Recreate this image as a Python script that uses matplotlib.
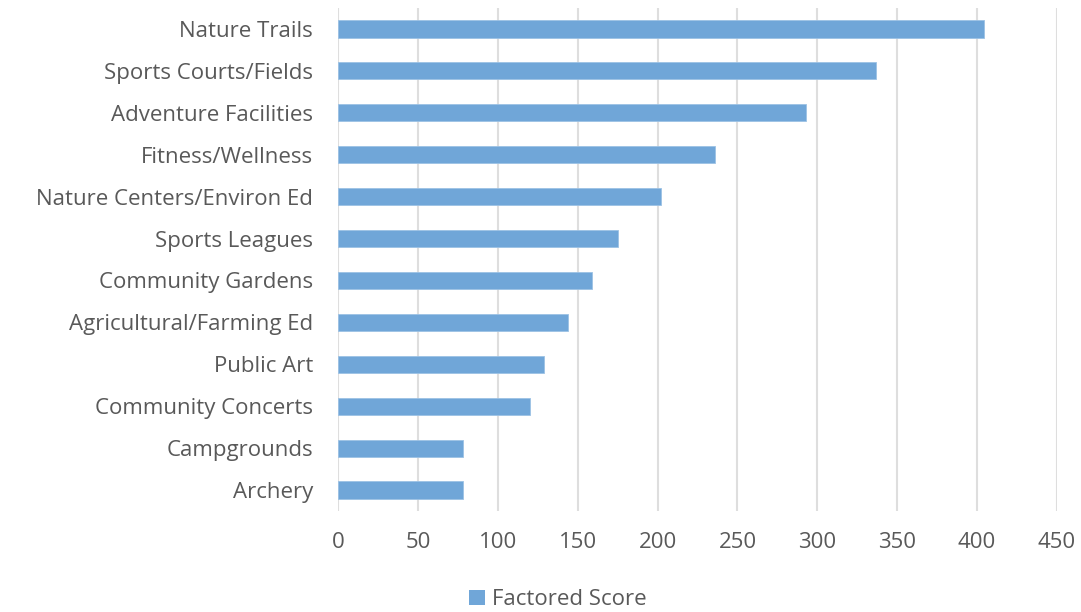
import matplotlib.pyplot as plt
from matplotlib.patches import Patch

# scores per amenity, listed top to bottom
categories = ['Nature Trails', 'Sports Courts/Fields', 'Adventure Facilities',
              'Fitness/Wellness', 'Nature Centers/Environ Ed', 'Sports Leagues',
              'Community Gardens', 'Agricultural/Farming Ed', 'Public Art',
              'Community Concerts', 'Campgrounds', 'Archery']
scores = [404, 337, 293, 236, 202, 175, 159, 144, 129, 120, 78, 78]
xticks = [0, 50, 100, 150, 200, 250, 300, 350, 400, 450]

bar_color = '#70a6d8'
text_color = '#595959'
plt.rcParams['font.family'] = ['Open Sans', 'DejaVu Sans']
fsize = 16

fig = plt.figure(figsize=(10.81, 6.12), dpi=100)
ax = fig.add_axes([0.3127, 0.165, 0.6651, 0.822])

ypos = list(range(len(categories)))[::-1]
ax.barh(ypos, scores, height=0.41, color=bar_color, edgecolor='#9cc2e5',
        linewidth=0.6, zorder=3)

ax.set_xlim(0, 450)
ax.set_ylim(-0.5, len(categories) - 0.5)
ax.set_xticks(xticks)
ax.set_yticks(ypos)
ax.set_yticklabels(categories)

ax.grid(axis='x', color='#dedede', linewidth=1.5, zorder=0)
ax.grid(axis='y', visible=False)
for s in ax.spines.values():
    s.set_visible(False)

ax.tick_params(axis='y', length=0, pad=18, labelsize=fsize, labelcolor=text_color)
ax.tick_params(axis='x', length=0, pad=15, labelsize=fsize, labelcolor=text_color)

handle = Patch(facecolor=bar_color, edgecolor='none')
fig.legend([handle], ['Factored Score'], loc='lower center',
           bbox_to_anchor=(0.516, -0.03), frameon=False, fontsize=fsize,
           labelcolor=text_color, handlelength=0.7, handleheight=0.7,
           handletextpad=0.3)

fig.savefig('out.png', dpi=100)
